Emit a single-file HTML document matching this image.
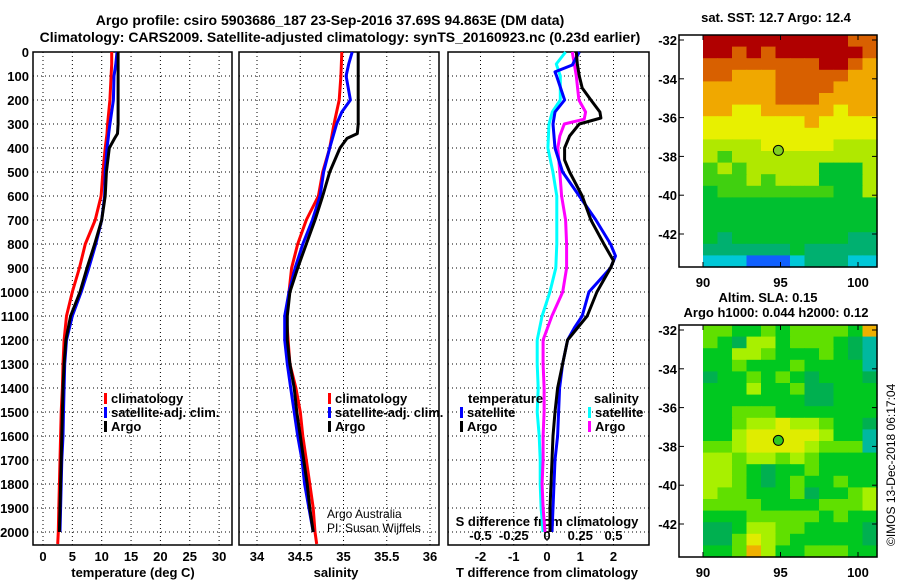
<!DOCTYPE html>
<html><head><meta charset="utf-8"><style>
body{margin:0;background:#fff;width:900px;height:580px;overflow:hidden}
svg{display:block;font-family:"Liberation Sans",sans-serif}
.b{font-weight:bold;font-size:13px}
</style></head><body>
<svg id="c" width="900" height="580" viewBox="0 0 900 580">
<text class="b" x="330" y="25" text-anchor="middle" style="font-size:14px">Argo profile: csiro 5903686_187 23-Sep-2016 37.69S 94.863E (DM data)</text>
<text class="b" x="340" y="42" text-anchor="middle" style="font-size:14px">Climatology: CARS2009. Satellite-adjusted climatology: synTS_20160923.nc (0.23d earlier)</text>
</svg>
<script>
// ---- data ----
const depthTicks=[0,100,200,300,400,500,600,700,800,900,1000,1100,1200,1300,1400,1500,1600,1700,1800,1900,2000];
const tempTicks=[0,5,10,15,20,25,30];
const salTicks=[34,34.5,35,35.5,36];
const salTickLabels=["34","34.5","35","35.5","36"];
const tdTicks=[-2,-1,0,1,2];
const sdTicks=[-0.5,-0.25,0,0.25,0.5];
const sdTickLabels=["-0.5","-0.25","0","0.25","0.5"];

const tDepth=[0,50,100,200,300,340,360,400,500,600,700,800,900,1000,1100,1200,1300,1400,1500,1600,1700,1800,1900,2000,2050];
const tClim=[11.7,11.7,11.6,11.4,11.0,10.9,10.8,10.6,10.2,9.9,8.9,7.2,6.2,5.0,4.0,3.6,3.4,3.3,3.1,3.0,2.9,2.8,2.7,2.6,2.5];
const tSat=[12.6,12.4,12.1,12.0,11.4,11.2,11.1,10.9,10.6,10.5,10.0,9.0,7.8,6.5,5.0,4.0,3.7,3.6,3.5,3.4,3.2,3.1,3.0,2.9];
const tArgo=[12.8,12.8,12.8,12.8,12.8,12.7,12.2,11.3,10.8,10.6,10.0,8.8,7.5,6.3,4.7,3.9,3.6,3.4,3.3,3.2,3.1,3.0,2.9,2.8];

const sClimDepth=[0,100,200,250,300,400,500,600,700,800,900,1000,1100,1200,1300,1400,1500,1600,1700,1800,1900,2000,2050];
const sClim=[34.98,34.97,34.95,34.92,34.89,34.84,34.76,34.71,34.57,34.47,34.40,34.37,34.34,34.36,34.38,34.45,34.50,34.53,34.57,34.61,34.65,34.67,34.69];
const sSatDepth=[0,50,100,200,250,300,400,500,600,700,800,900,1000,1100,1200,1300,1400,1500,1600,1700,1800,1900,2000];
const sSat=[35.10,35.06,35.03,35.08,34.98,34.92,34.84,34.77,34.73,34.64,34.53,34.44,34.37,34.32,34.32,34.35,34.39,34.43,34.47,34.52,34.55,34.60,34.65];
const sArgoDepth=[0,100,200,300,340,360,400,500,600,700,800,900,1000,1100,1200,1300,1400,1500,1600,1700,1800,1900,2000];
const sArgo=[35.17,35.17,35.17,35.17,35.16,35.04,34.96,34.84,34.76,34.67,34.57,34.47,34.38,34.35,34.35,34.38,34.43,34.46,34.50,34.54,34.58,34.61,34.65];

const dtSatDepth=[0,54,83,100,200,250,300,400,500,600,700,800,850,900,1000,1100,1150,1200,1300,1400,1500,1600,1700,1800,1900,2000];
const dtSat=[0.97,0.76,0.24,0.29,0.53,0.24,0.18,0.24,0.47,0.97,1.47,1.91,2.06,1.91,1.26,1.06,0.82,0.62,0.47,0.38,0.35,0.32,0.24,0.21,0.18,0.15];
const dtArgoDepth=[0,50,100,150,200,250,275,300,350,400,450,500,600,700,800,870,900,1000,1100,1200,1300,1400,1500,1600,1700,1800,1900,2000];
const dtArgo=[0.88,0.91,0.97,1.06,1.32,1.59,1.62,0.97,0.68,0.53,0.53,0.68,1.06,1.32,1.71,2.0,1.91,1.5,1.21,0.62,0.47,0.32,0.24,0.18,0.15,0.12,0.09,0.09];
const dsSatDepth=[0,50,100,200,250,300,400,500,600,700,800,900,1000,1100,1200,1300,1400,1500,1600,1700,1800,1900,2000];
const dsSat=[0.14,0.07,0.10,0.10,0.04,0.015,0.007,0.044,0.074,0.074,0.074,0.066,0.022,-0.037,-0.074,-0.074,-0.066,-0.074,-0.059,-0.051,-0.051,-0.044,-0.029];
const dsArgoDepth=[0,100,200,250,280,300,350,400,500,600,700,800,900,1000,1100,1200,1300,1400,1500,1600,1700,1800,1900,2000];
const dsArgo=[0.19,0.22,0.24,0.29,0.28,0.13,0.096,0.081,0.096,0.11,0.14,0.147,0.147,0.118,0.037,-0.029,-0.029,-0.022,-0.022,-0.029,-0.029,-0.037,-0.029,-0.015];

const latTicks=[-32,-34,-36,-38,-40,-42];
const lonTicks=[90,95,100];
const sstRows=["999999999988","998989999998","888888889987","887778888877","777778888777","777778887777","776677777677","666666676666","666666666666","555566666555","545555555555","454555553335","444545553335","344444444335","333333333333","333333333333","333333333333","323333333322","222222322222","111000122211"];
const slaRows=["332232333326","321442333210","224432223210","223222322220","122323212221","222422311222","222222211222","223332222222","223445443221","224555554220","334555543330","443443432222","443212232222","443212322322","433222312234","333322223334","222333332322","112443322221","113543222221","223642233322"];
const argoLon=94.863, argoLat=-37.69;

// ---- drawing ----
const NS="http://www.w3.org/2000/svg";
const svg=document.getElementById('c');
function el(tag,attrs,parent){const e=document.createElementNS(NS,tag);for(const k in attrs)e.setAttribute(k,attrs[k]);(parent||svg).appendChild(e);return e;}
function txt(x,y,s,cls,anchor,extra){const t=el('text',Object.assign({x:x,y:y,'text-anchor':anchor||'start'},extra||{}));if(cls)t.setAttribute('class',cls);t.textContent=s;return t;}
const Y0=52,PY=0.24;
const yD=d=>Y0+d*PY;
const xT=t=>43+t*5.87;
const xS=s=>257+(s-34)*86.5;
const xDT=t=>547+t*33.25;
const xDS=s=>547+s*133;

function frame(x0,x1,name,xticks,xf){
  const g=el('g',{});
  
  
  depthTicks.forEach(d=>{const l=el('line',{x1:x0,x2:x1,y1:yD(d),y2:yD(d),stroke:'#000','stroke-width':1,'stroke-dasharray':'1,3'},g);});
  xticks.forEach(v=>{const l=el('line',{x1:xf(v),x2:xf(v),y1:Y0,y2:545,stroke:'#000','stroke-width':1,'stroke-dasharray':'1,3'},g);});
  const r=el('rect',{x:x0,y:Y0,width:x1-x0,height:545-Y0,fill:'none',stroke:'#000','stroke-width':1.5},g);
  
  return g;
}
function line(xs,ds,xf,color,name){
  const pts=xs.map((v,i)=>xf(v).toFixed(1)+','+yD(ds[i]).toFixed(1)).join(' ');
  const p=el('polyline',{points:pts,fill:'none',stroke:color,'stroke-width':3,'stroke-linejoin':'round'});
  
}
function legend(x,y,color,label,name){
  const g=el('g',{});
  
  
  el('rect',{x:x,y:y-10,width:3,height:11,fill:color},g);
  const t=txt(x+7,y,label,'b');g.appendChild(t);
}

// panel 1 temperature
frame(33,232,'temperature-panel',tempTicks,xT);
frame(239,439,'salinity-panel',salTicks,xS);
frame(448,649,'difference-panel',tdTicks,xDT);
depthTicks.forEach(d=>{const t=txt(29,yD(d)+5,String(d),'b','end');});
tempTicks.forEach(v=>{const t=txt(xT(v),561,String(v),'b','middle');});
salTicks.forEach((v,i)=>{const t=txt(xS(v),561,salTickLabels[i],'b','middle');});
tdTicks.forEach(v=>{const t=txt(xDT(v),561,String(v),'b','middle');});
sdTicks.forEach((v,i)=>{const t=txt(xDS(v),540,sdTickLabels[i],'b','middle');});
let t;
t=txt(133,577,'temperature (deg C)','b','middle');
t=txt(336,577,'salinity','b','middle');
t=txt(547,577,'T difference from climatology','b','middle');
t=txt(547,526,'S difference from climatology','b','middle');

line(tClim,tDepth,xT,'#ff0000','temp-climatology-line');
line(tSat,tDepth,xT,'#0000ff','temp-satellite-line');
line(tArgo,tDepth,xT,'#000000','temp-argo-line');
line(sClim,sClimDepth,xS,'#ff0000','sal-climatology-line');
line(sSat,sSatDepth,xS,'#0000ff','sal-satellite-line');
line(sArgo,sArgoDepth,xS,'#000000','sal-argo-line');
line(dsSat,dsSatDepth,xDS,'#00ffff','sdiff-satellite-line');
line(dsArgo,dsArgoDepth,xDS,'#ff00ff','sdiff-argo-line');
line(dtSat,dtSatDepth,xDT,'#0000ff','tdiff-satellite-line');
line(dtArgo,dtArgoDepth,xDT,'#000000','tdiff-argo-line');

legend(104,403,'#ff0000','climatology','legend-climatology');
legend(104,417,'#0000ff','satellite-adj. clim.','legend-satellite');
legend(104,431,'#000000','Argo','legend-argo');
legend(328,403,'#ff0000','climatology','legend-sal-climatology');
legend(328,417,'#0000ff','satellite-adj. clim.','legend-sal-satellite');
legend(328,431,'#000000','Argo','legend-sal-argo');
t=txt(468,403,'temperature','b');
t=txt(594,403,'salinity','b');
legend(460,417,'#0000ff','satellite','legend-t-satellite');
legend(460,431,'#000000','Argo','legend-t-argo');
legend(588,417,'#00ffff','satellite','legend-s-satellite');
legend(588,431,'#ff00ff','Argo','legend-s-argo');
t=txt(327,518,'Argo Australia','', 'start',{'font-size':'12'});
t=txt(327,532,'PI: Susan Wijffels','', 'start',{'font-size':'12'});

// maps
const sstCols=['#1060ff','#00c8d8','#00b070','#00c030','#40d010','#b0e800','#e8f000','#f0a800','#d86000','#b00000'];
const slaCols=['#00b8a0','#00b050','#00c820','#60e000','#a8f000','#e0ec00','#f0b000'];
const mxL=lon=>703+(lon-90)*15.5;
function drawMap(y0,rows,cols,name,circleFill){
  const myL=lat=>y0+5+(-32-lat)*19.4;
  const g=el('g',{});
  
  
  const nr=rows.length,nc=rows[0].length,x0=703,x1=877,ya=y0,yb=y0+232;
  const cw=(x1-x0)/nc,ch=(yb-ya)/nr;
  rows.forEach((r,i)=>{for(let j=0;j<nc;j++){const c=el('rect',{x:(x0+j*cw).toFixed(2),y:(ya+i*ch).toFixed(2),width:(cw+0.6).toFixed(2),height:(ch+0.6).toFixed(2),fill:cols[+r[j]]},g);}});
  const fr=el('rect',{x:679,y:ya,width:198,height:232,fill:'none',stroke:'#000','stroke-width':1.5},g);
  
  latTicks.forEach(l=>{const y=myL(l);el('line',{x1:679,x2:684,y1:y,y2:y,stroke:'#000'},g);el('line',{x1:872,x2:877,y1:y,y2:y,stroke:'#000'},g);const tt=txt(677,y+5,String(l),'b','end');});
  lonTicks.forEach(l=>{const x=mxL(l);el('line',{x1:x,x2:x,y1:ya,y2:ya+5,stroke:'#000'},g);el('line',{x1:x,x2:x,y1:yb-5,y2:yb,stroke:'#000'},g);const tt=txt(x,yb+20,String(l),'b','middle');});
  const c=el('circle',{cx:mxL(argoLon),cy:myL(argoLat),r:5,fill:circleFill,stroke:'#000','stroke-width':1},g);
  
}
drawMap(35,sstRows,sstCols,'sst-map','#80d020');
drawMap(325,slaRows,slaCols,'sla-map','#30c820');
t=txt(776,22,'sat. SST: 12.7 Argo: 12.4','b','middle');
t=txt(768,302,'Altim. SLA: 0.15','b','middle');
t=txt(776,317,'Argo h1000: 0.044 h2000: 0.12','b','middle');
t=txt(0,0,'©IMOS 13-Dec-2018 06:17:04','','start',{'font-size':'12',transform:'translate(895,546) rotate(-90)'});
</script>
</body></html>
